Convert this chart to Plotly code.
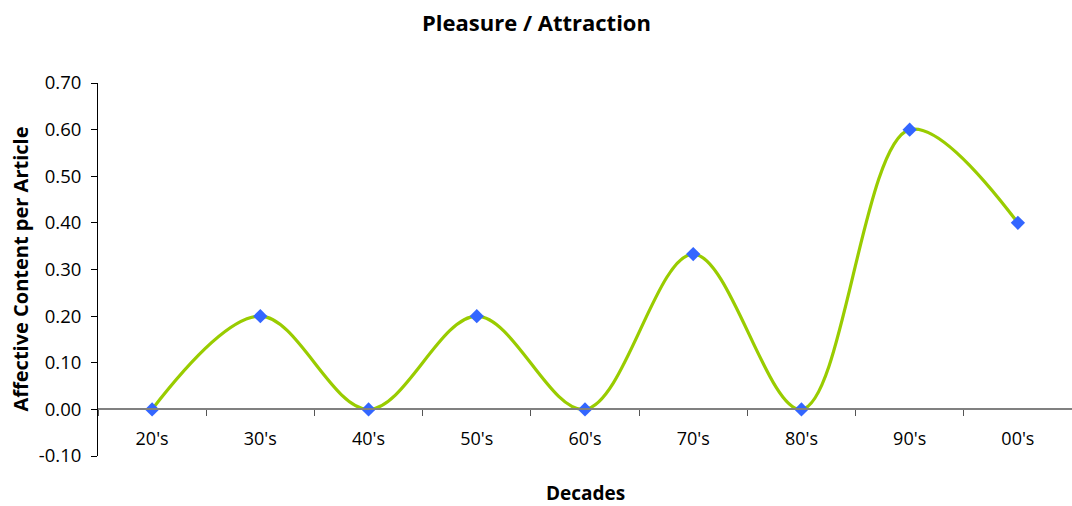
import plotly.graph_objects as go

decades = ["20's", "30's", "40's", "50's", "60's", "70's", "80's", "90's", "00's"]
values = [0.0, 0.2, 0.0, 0.2, 0.0, 0.333, 0.0, 0.6, 0.4]
y_ticks = [-0.1, 0.0, 0.1, 0.2, 0.3, 0.4, 0.5, 0.6, 0.7]
y_tick_text = ["-0.10", "0.00", "0.10", "0.20", "0.30", "0.40", "0.50", "0.60", "0.70"]

FONT = "'Open Sans', Lato, sans-serif"
L, R, T, B = 98, 0, 83, 50
W, H = 1072, 506
PW, PH = W - L - R, H - T - B

fig = go.Figure()
fig.add_trace(go.Scatter(
    x=decades, y=values, mode="lines+markers",
    line=dict(color="#99CC00", width=3.2, shape="spline", smoothing=1),
    marker=dict(symbol="diamond", color="#3366FF", size=11),
    showlegend=False, cliponaxis=False,
))

fig.update_layout(
    width=W, height=H,
    margin=dict(l=L, r=R, t=T, b=B, autoexpand=False),
    paper_bgcolor="white", plot_bgcolor="white",
    font=dict(family=FONT, size=18, color="black"),
    xaxis=dict(
        type="category", range=[-0.5, 8.5],
        anchor="free", position=0.125, automargin=False,
        showline=True, linecolor="#808080", linewidth=1.5,
        ticks="outside", tickson="boundaries", ticklen=6, tickcolor="#555555",
        ticklabelstandoff=13,
        showgrid=False, zeroline=False,
        tickfont=dict(size=18),
    ),
    yaxis=dict(
        range=[-0.1, 0.7], tickvals=y_ticks, ticktext=y_tick_text,
        automargin=False,
        showline=True, linecolor="black", linewidth=1,
        ticks="outside", ticklen=6, tickcolor="black",
        ticklabelstandoff=6,
        showgrid=False, zeroline=False,
        tickfont=dict(size=18.5),
    ),
)
fig.add_annotation(text="<b>Pleasure / Attraction</b>", xref="paper", yref="paper",
                   x=(W / 2 - L) / PW, y=1 + (T - 22) / PH, xanchor="center", yanchor="middle",
                   showarrow=False, font=dict(size=22, family=FONT))
fig.add_annotation(text="<b>Decades</b>", xref="paper", yref="paper",
                   x=0.5, y=-(493 - (T + PH)) / PH, xanchor="center", yanchor="middle",
                   showarrow=False, font=dict(size=19, family=FONT))
fig.add_annotation(text="<b>Affective Content per Article</b>", xref="paper", yref="paper",
                   x=(20 - L) / PW, y=0.5, xanchor="center", yanchor="middle", textangle=-90,
                   showarrow=False, font=dict(size=20, family=FONT))

fig.write_html("out.html", config={"displayModeBar": False},
               post_script="document.body.style.margin='0';")
